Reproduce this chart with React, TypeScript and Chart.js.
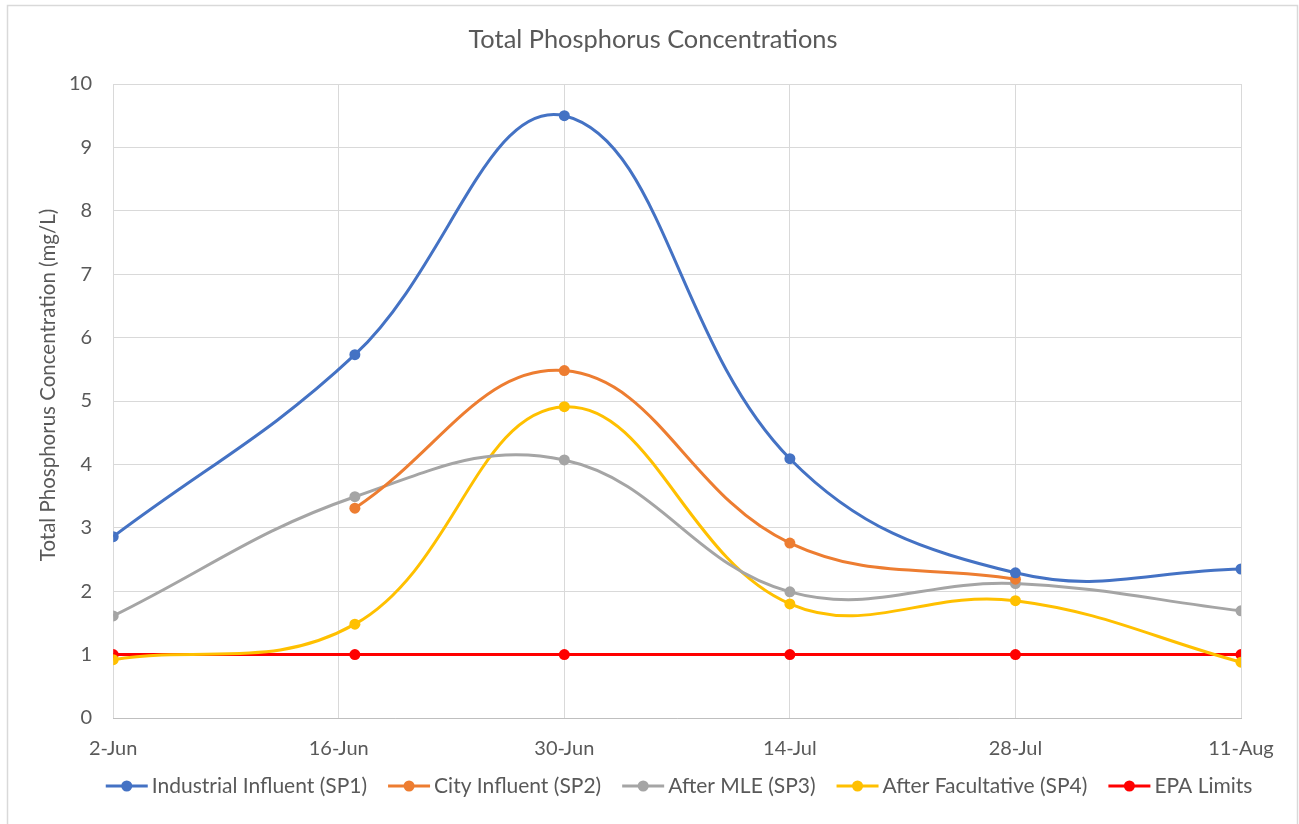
import React, { useEffect, useRef } from "react";
import { Chart, registerables } from "chart.js";

Chart.register(...registerables);

const tickDays = [0, 14, 28, 42, 56, 70];
const tickLabels = ["2-Jun", "16-Jun", "30-Jun", "14-Jul", "28-Jul", "11-Aug"];
const sampleDays = [0, 15, 28, 42, 56, 70];
const industrialInfluent = [2.86, 5.73, 9.5, 4.09, 2.29, 2.35];
const cityInfluent = [null, 3.31, 5.48, 2.76, 2.19, null];
const afterMLE = [1.61, 3.49, 4.07, 1.99, 2.12, 1.69];
const afterFacultative = [0.92, 1.48, 4.91, 1.8, 1.85, 0.88];
const epaLimits = [1, 1, 1, 1, 1, 1];
const seriesNames = [
  "Industrial Influent (SP1)",
  "City Influent (SP2)",
  "After MLE (SP3)",
  "After Facultative (SP4)",
  "EPA Limits",
];
const seriesColors = ["#4472C4", "#ED7D31", "#A5A5A5", "#FFC000", "#FF0000"];
const seriesValues = [industrialInfluent, cityInfluent, afterMLE, afterFacultative, epaLimits];
const chartTitle = "Total Phosphorus Concentrations";
const yAxisTitle = "Total Phosphorus Concentration (mg/L)";

const FONT = "Lato, 'Open Sans', sans-serif";
const TEXT = "#595959";

// Excel-like outer frame
const framePlugin = {
  id: "frame",
  beforeDraw(chart: any) {
    const ctx = chart.ctx;
    ctx.save();
    ctx.fillStyle = "#ffffff";
    ctx.fillRect(0, 0, chart.width, chart.height);
    ctx.strokeStyle = "#D9D9D9";
    ctx.lineWidth = 1.5;
    ctx.strokeRect(7.5, 5.5, 1290, 840);
    ctx.restore();
  },
};

// chart title and rotated y-axis title
const titlesPlugin = {
  id: "titles",
  afterDraw(chart: any) {
    const ctx = chart.ctx;
    ctx.save();
    ctx.fillStyle = TEXT;
    ctx.textAlign = "center";
    ctx.textBaseline = "middle";
    ctx.font = `25.4px ${FONT}`;
    ctx.fillText(chartTitle, 653, 40);
    ctx.translate(48, 385);
    ctx.rotate(-Math.PI / 2);
    ctx.font = `20.5px ${FONT}`;
    ctx.fillText(yAxisTitle, 0, 0);
    ctx.restore();
  },
};

// Excel-like legend: line + marker, then text
const legendPlugin = {
  id: "excelLegend",
  afterDraw(chart: any) {
    const ctx = chart.ctx;
    const markerW = 42;
    const gapText = 4;
    const gapItem = 21;
    const y = 786;
    ctx.save();
    ctx.font = `21px ${FONT}`;
    const ds = chart.data.datasets;
    const widths = ds.map((d: any) => ctx.measureText(d.label).width);
    const total =
      widths.reduce((a: number, b: number) => a + b, 0) +
      ds.length * (markerW + gapText) +
      (ds.length - 1) * gapItem;
    const center = (chart.chartArea.left + chart.chartArea.right) / 2 + 2;
    let x = center - total / 2;
    ds.forEach((d: any, i: number) => {
      const color = d.borderColor;
      ctx.strokeStyle = color;
      ctx.lineWidth = 3;
      ctx.beginPath();
      ctx.moveTo(x, y);
      ctx.lineTo(x + markerW, y);
      ctx.stroke();
      ctx.fillStyle = color;
      ctx.beginPath();
      ctx.arc(x + markerW / 2, y, 5.5, 0, Math.PI * 2);
      ctx.fill();
      x += markerW + gapText;
      ctx.fillStyle = TEXT;
      ctx.textAlign = "left";
      ctx.textBaseline = "middle";
      ctx.fillText(d.label, x, y);
      x += widths[i] + gapItem;
    });
    ctx.restore();
  },
};

export default function App() {
  const ref = useRef<HTMLCanvasElement | null>(null);

  useEffect(() => {
    if (!ref.current) return;
    const chart = new Chart(ref.current, {
      type: "line",
      data: {
        datasets: seriesNames.map((name, i) => ({
          label: name,
          data: sampleDays.map((d, j) => ({ x: d, y: seriesValues[i][j] as any })),
          borderColor: seriesColors[i],
          backgroundColor: seriesColors[i],
          borderWidth: 3,
          pointRadius: 5.5,
          pointHoverRadius: 5.5,
          pointBorderWidth: 0,
          tension: i === 4 ? 0 : 0.4,
          spanGaps: false,
          fill: false,
        })),
      },
      options: {
        animation: false,
        responsive: false,
        maintainAspectRatio: false,
        layout: { padding: { left: 48, right: 58, top: 84, bottom: 44 } },
        scales: {
          x: {
            type: "linear",
            min: 0,
            max: 70,
            afterBuildTicks(scale: any) {
              scale.ticks = tickDays.map((v) => ({ value: v }));
            },
            ticks: {
              autoSkip: false,
              maxRotation: 0,
              padding: 19,
              color: TEXT,
              font: { family: FONT, size: 20 },
              callback: (v: any) => tickLabels[tickDays.indexOf(Number(v))] ?? "",
            },
            grid: { color: "#D9D9D9", lineWidth: 1, drawTicks: false },
            border: { display: true, color: "#BFBFBF", width: 1 },
          },
          y: {
            min: 0,
            max: 10,
            ticks: {
              stepSize: 1,
              padding: 21,
              color: TEXT,
              font: { family: FONT, size: 20 },
            },
            grid: { color: "#D9D9D9", lineWidth: 1, drawTicks: false },
            border: { display: false },
          },
        },
        plugins: {
          title: { display: false },
          legend: { display: false },
          tooltip: { enabled: false },
        },
      },
      plugins: [framePlugin, titlesPlugin, legendPlugin],
    });
    return () => chart.destroy();
  }, []);

  return (
    <div style={{ position: "absolute", left: 0, top: 0, width: 1299, height: 824 }}>
      <canvas ref={ref} width={1299} height={824} style={{ width: 1299, height: 824 }} />
    </div>
  );
}
